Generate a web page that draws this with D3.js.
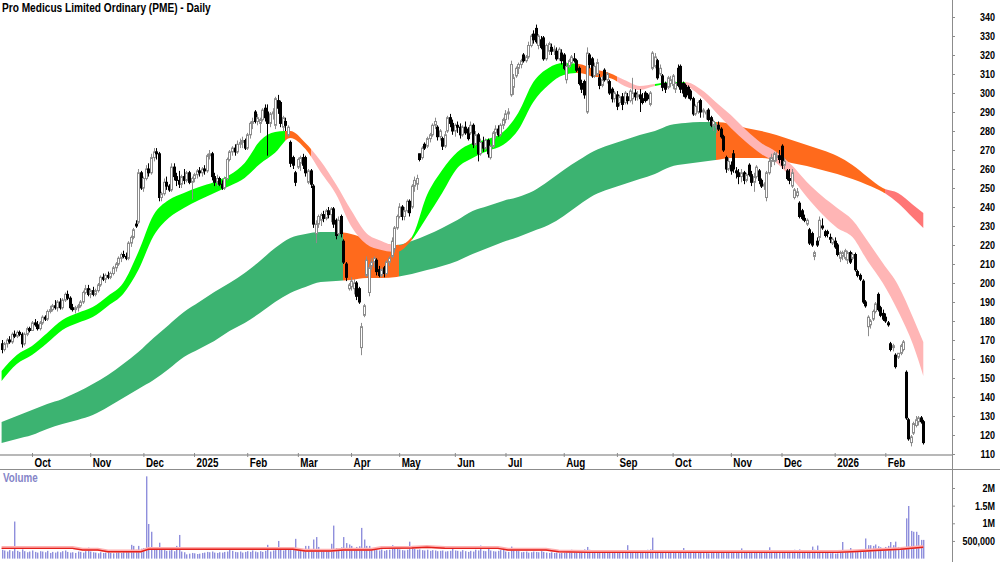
<!DOCTYPE html>
<html>
<head>
<meta charset="utf-8">
<script src="https://cdn.jsdelivr.net/npm/d3@7"></script>
<style>
html, body { margin: 0; padding: 0; background: #fff; }
svg { display: block; }
</style>
</head>
<body>
<svg id="chart" width="1000" height="562"></svg>
<script>
// ---- data (prices in A$, volume in thousands) ----
const title = "Pro Medicus Limited Ordinary (PME) - Daily";
const firstDay = "2024-09-13", lastDay = "2026-02-23";
const holidays = ["2024-12-25","2024-12-26","2025-01-01","2025-01-27","2025-04-18","2025-04-21",
  "2025-04-25","2025-06-09","2025-12-25","2025-12-26","2026-01-01","2026-01-26"];
const monthLabels = ["Oct","Nov","Dec","2025","Feb","Mar","Apr","May","Jun","Jul","Aug","Sep","Oct","Nov","Dec","2026","Feb"];
const priceTicks = [110,120,130,140,150,160,170,180,190,200,210,220,230,240,250,260,270,280,290,300,310,320,330,340];
const volumeTicks = [500, 1000, 1500, 2000];
const volumeTickLabels = ["500,000", "1M", "1.5M", "2M"];

// [open, high, low, close]
const bars2024 = [
  [168,170,163,165],[165,169,164,168],[168,171,166,170],[170,172,168,169],[169,174,168,173],[173,175,171,172],[172,175,171,174],[174,175,172,173],[173,174,166,168],[168,174,167,173],[173,177,172,176],[176,177,174,175],
  [175,180,175,179],[179,181,177,178],[178,180,175,176],[176,180,175,179],[179,183,178,182],[182,183,180,181],[181,186,180,185],[185,188,184,186],[186,189,185,188],[188,191,186,187],[187,191,185,190],[190,192,186,187],[187,192,186,191],[191,195,190,194],[194,196,191,192],[192,193,186,187],[187,189,185,186],[186,188,184,187],[187,189,185,188],[188,191,187,190],[190,196,189,195],[195,199,194,197],[197,199,193,194],
  [194,197,192,196],[196,198,193,194],[194,197,193,196],[196,200,195,199],[199,204,198,203],[203,205,201,202],[202,205,200,204],[204,206,202,203],[203,206,202,205],[205,209,204,208],[208,211,206,210],[210,214,209,213],[213,216,211,215],[215,217,213,214],[214,216,212,213],[213,222,212,221],[221,225,219,224],[224,229,223,228],[231,233,229,230],[232,260,231,258],[258,259,249,250],
  [250,256,248,255],[255,262,254,260],[260,263,256,258],[258,268,257,266],[266,271,264,269],[269,271,265,268],[268,269,243,245],[245,248,243,247],[247,255,246,253],[253,256,249,251],[251,252,248,249],[249,263,248,261],[261,263,254,256],[256,258,251,254],[254,259,250,252],[252,257,250,256],[256,260,252,254],[254,259,253,258],[258,259,252,253],[253,256,244,255]
];
const bars2025 = [
  [255,258,253,257],[257,260,255,259],[259,261,256,258],[258,261,256,260],[260,262,257,259],[259,268,258,267],[267,270,265,268],[268,269,254,256],[256,258,251,253],[253,257,251,255],[255,256,251,252],[252,254,249,250],[250,256,249,255],[255,266,254,265],[265,270,264,269],[269,272,267,271],[271,273,267,269],[269,275,268,273],[273,276,271,274],[274,277,271,275],[275,276,270,271],
  [271,279,270,278],[278,285,276,284],[284,287,281,285],[290,291,284,285],[285,289,283,287],[284,287,279,286],[286,292,285,291],[292,294,285,287],[290,294,267,284],[284,290,282,289],[289,292,286,290],[283,298,281,297],[296,299,289,292],[295,296,282,284],[282,288,280,287],[285,287,280,283],[278,283,277,282],[274,275,261,263],[266,267,260,262],[258,259,251,253],
  [261,266,260,265],[263,267,259,266],[266,268,260,262],[266,267,256,258],[253,260,252,259],[259,260,250,252],[251,252,229,231],[226,233,221,231],[231,236,229,235],[233,237,230,236],[236,238,232,234],[234,239,233,238],[238,240,234,236],[236,240,232,239],[239,240,229,231],[233,234,223,225],[226,235,225,233],[235,236,224,226],[222,223,210,211],[210,211,201,203],[197,200,196,199],
  [198,203,196,201],[197,202,194,200],[200,201,191,193],[197,198,189,190],[166,179,162,177],[183,189,182,188],[204,214,203,212],[195,210,193,208],[209,213,207,211],[211,214,208,213],[212,213,204,206],[207,209,203,204],[204,208,203,207],[208,209,203,205],[205,212,204,211],[211,214,209,213],[214,224,213,222],[218,230,216,229],[229,236,228,235],
  [235,242,234,240],[240,241,233,235],[235,240,233,238],[238,244,237,243],[243,244,235,237],[240,252,239,251],[251,256,248,254],[252,257,249,255],[268,268,264,265],[266,272,265,271],[273,274,270,271],[272,277,271,276],[276,279,274,278],[278,284,277,283],[283,287,281,285],[282,283,275,277],[277,281,275,280],[276,277,270,272],[272,280,271,278],[280,288,279,287],[287,289,282,284],[284,286,278,280],
  [280,284,277,283],[283,285,279,282],[282,284,276,278],[278,283,277,282],[282,285,278,279],[281,282,275,276],[279,285,278,283],[283,284,271,273],[273,280,272,278],[278,279,264,268],[268,276,267,274],[274,277,269,271],[271,276,270,275],[275,276,266,268],[266,273,265,272],[272,280,271,279],[279,283,276,281],[281,283,277,278],[278,284,277,283],[283,287,281,286],
  [286,291,284,289],[289,292,286,290],[299,317,298,315],[303,310,299,308],[309,314,308,313],[313,316,310,315],[315,318,313,317],[320,321,316,317],[317,320,316,319],[319,327,318,325],[325,331,324,330],[331,333,326,328],[334,336,326,327],[325,331,323,330],[328,330,323,324],[329,330,317,318],[318,326,317,325],[322,327,320,326],[324,326,320,322],[322,325,320,323],[322,324,317,318],[318,324,317,323],[321,323,315,317],
  [320,321,312,313],[307,316,305,314],[314,318,313,317],[316,320,315,319],[318,321,316,317],[317,318,311,312],[313,314,304,305],[305,307,300,302],[306,307,297,299],[290,324,289,321],[320,321,313,315],[318,319,308,309],[309,316,308,314],[310,318,309,316],[308,310,302,304],[304,309,303,307],[312,313,306,307],[307,311,305,310],[306,307,299,300],[302,303,295,297],[297,301,295,300],
  [299,301,291,293],[295,299,293,298],[298,300,291,294],[295,301,294,300],[298,300,294,296],[296,302,295,301],[297,308,294,300],[300,302,296,298],[298,301,296,299],[299,302,290,297],[297,300,294,295],[300,301,295,296],[299,300,296,297],[294,301,293,300],[313,322,312,321],[314,321,313,319],[317,318,307,308],[310,315,309,313],[309,310,301,303],[305,306,300,302],[303,309,302,308],[305,309,303,307],
  [304,310,302,309],[302,306,300,305],[313,315,303,304],[314,315,300,302],[305,306,298,300],[304,305,297,298],[303,304,297,299],[301,302,296,297],[297,298,288,289],[289,294,288,293],[290,296,289,295],[296,297,287,290],[290,292,287,291],[289,291,286,290],[291,292,285,286],[287,288,282,283],[283,286,280,285],[282,284,279,283],[283,285,280,281],[281,282,276,277],[277,278,269,270],[266,267,258,260],[260,266,259,264],
  [262,264,257,259],[268,270,258,260],[259,261,255,258],[258,260,252,256],[256,260,253,258],[258,259,252,254],[254,258,253,257],[262,263,256,257],[257,259,251,253],[253,258,248,256],[256,262,255,261],[259,260,252,254],[254,255,250,251],[251,253,249,252],[245,259,243,258],[258,266,257,264],[264,268,261,266],[264,269,262,268],[266,269,264,267],[267,270,263,265],
  [272,273,260,262],[262,266,260,264],[259,260,254,255],[255,260,252,254],[251,260,250,258],[245,250,244,249],[246,250,245,248],[242,243,234,235],[238,239,233,234],[234,236,232,233],[231,234,230,233],[228,229,220,221],[226,227,219,220],[214,217,212,216],[222,224,219,220],[224,235,222,233],[230,234,228,229],[227,228,224,225],[227,228,224,226],[224,226,221,223],[221,224,220,223]
];
const bars2026 = [
  [222,224,218,219],[220,221,214,215],[213,217,211,216],[214,217,212,216],[213,218,212,217],[212,217,210,216],[216,217,210,211],[213,216,212,215],[215,216,206,207],[206,207,203,204],[204,205,201,202],[201,202,189,190],[190,191,187,188],[177,183,172,182],[178,181,176,180],[181,186,180,185],[185,190,184,189],[194,195,185,186],[187,188,182,183],[184,186,180,181],
  [182,184,179,180],[179,180,177,178],[168,169,164,165],[166,168,164,167],[162,163,155,156],[161,163,160,163],[163,168,162,167],[165,170,164,169],[153,154,128,129],[128,129,117,118],[116,120,114,119],[121,127,120,126],[125,130,124,128],[127,130,125,129],[129,130,126,127],[127,128,115,116]
];

const vol2024 = [
  250,230,200,240,210,1050,220,190,260,210,180,200,
  230,190,170,210,200,180,220,160,190,170,200,180,210,230,190,170,180,160,200,190,170,210,310,
  200,180,170,150,180,160,170,190,160,150,170,180,160,200,190,240,390,360,250,360,280,
  300,2330,980,760,300,260,450,280,240,220,230,250,210,360,670,200,180,120,140,160
];
const vol2025 = [
  150,130,140,160,170,190,180,200,170,160,180,170,190,200,310,220,190,180,200,170,190,
  210,190,230,200,180,210,190,220,390,200,230,240,500,260,230,250,280,240,300,560,
  280,250,240,360,360,270,540,610,330,260,240,250,270,420,935,300,280,320,610,440,400,
  360,300,330,350,870,540,360,360,290,250,240,230,260,220,240,250,380,300,280,
  260,240,230,250,480,300,270,250,260,240,230,250,220,240,230,210,220,230,200,210,220,330,
  230,220,200,240,210,190,220,200,250,230,370,220,210,340,230,210,200,220,240,250,
  200,190,340,260,220,210,180,190,200,170,180,200,190,180,210,190,170,160,180,160,170,150,160,
  170,190,230,250,200,220,240,230,260,330,250,220,200,210,180,190,170,160,180,200,170,
  180,170,160,190,380,200,180,170,190,220,200,230,250,260,594,240,220,200,190,210,180,200,
  190,180,200,170,300,200,190,180,170,160,180,190,170,160,150,170,160,180,170,190,200,180,170,
  180,170,200,190,290,180,170,160,190,180,170,200,190,210,220,320,200,190,180,170,
  210,200,190,220,230,250,240,260,230,220,240,230,340,250,370,230,220,200,180,150,160
];
const vol2026 = [
  140,150,170,470,200,210,300,220,230,240,250,260,570,380,380,360,400,350,320,300,
  330,360,470,380,480,330,300,320,1140,1490,785,760,760,670,530,530
];

// average-volume line (red), read at these trading-day positions
const volAvgDays = [0,28,32,38,42,55,58,115,120,130,135,146,150,162,168,175,196,200,215,220,232,330,338,345,355,364];
const volAvg     = [290,290,245,245,196,196,265,265,215,215,245,245,290,300,320,295,290,245,245,196,175,175,200,230,265,320];

// moving-average ribbons, read every sixth trading day (and the last day)
const bandDays = [0,6,12,18,24,30,36,42,48,54,60,66,72,78,84,90,96,102,108,114,120,126,132,138,144,150,156,162,168,174,
  180,186,192,198,204,210,216,222,228,234,240,246,252,258,264,270,276,282,288,294,300,306,312,318,324,330,336,342,348,354,360,364];
const fastHi = [153.7,162.1,166.8,173.7,180.5,184.2,187.4,193.2,200.0,216.3,235.8,243.7,247.4,250.5,253.2,256.8,263.2,274.7,279.5,280.0,
  273.7,264.2,252.1,238.4,226.3,222.1,219.5,224.2,246.3,259.5,269.0,273.7,275.8,279.5,289.5,305.8,313.2,315.8,315.3,312.6,
  310.5,306.8,303.7,304.7,305.8,305.8,302.1,295.3,288.4,280.5,273.7,269.0,262.1,253.2,245.8,239.5,233.2,222.1,210.5,199.0,181.6,168.9];
const fastLo = [148.4,157.4,162.1,168.4,175.3,179.0,182.1,187.9,194.2,206.8,224.7,234.2,239.5,243.7,247.4,251.1,255.3,262.6,268.5,276.3,
  270.5,258.4,246.8,230.0,220.5,217.4,216.3,222.6,234.7,247.4,260.5,265.8,269.5,272.6,280.5,295.3,304.2,309.5,310.5,308.5,
  307.9,303.7,301.6,303.7,304.7,303.7,298.4,290.0,281.6,274.2,267.9,263.2,255.3,245.3,236.3,229.0,224.2,211.6,200.0,185.3,167.4,151.1];
const slowHi = [126.8,130.0,133.2,136.3,139.0,142.6,146.9,151.6,157.4,163.7,171.1,177.9,184.7,190.0,195.3,200.0,205.3,211.6,218.4,223.7,
  225.8,226.8,226.8,225.8,223.2,221.1,220.0,222.1,225.3,229.0,233.2,237.9,240.5,243.2,245.3,248.4,253.7,259.5,264.7,269.5,
  272.6,275.3,277.9,280.0,283.2,284.2,284.7,284.7,283.7,281.6,280.0,277.9,275.3,272.6,270.0,266.8,262.1,255.8,250.0,247.4,241.1,236.8];
const slowLo = [115.8,117.9,120.0,123.2,125.8,127.9,130.5,134.7,139.5,144.2,148.9,154.8,161.1,165.3,169.5,174.7,178.9,184.2,190.0,194.7,
  197.9,200.5,201.1,201.6,202.6,202.6,203.2,204.7,206.8,209.0,211.6,215.3,218.4,221.6,224.2,227.4,230.5,235.3,241.1,246.3,
  249.5,252.1,254.7,257.4,261.1,262.6,263.7,264.7,265.8,265.8,265.8,264.7,263.2,261.6,259.5,257.4,254.7,251.6,247.9,242.1,234.2,229.0];
// ribbon state by trading-day range
const fastStates = [[0,112,"up"],[112,122,"turn"],[122,154,"down"],[154,162,"turn"],[162,227,"up"],[227,243,"turn"],[243,258,"down"],[258,270,"up"],[270,364,"down"]];
const slowStates = [[0,135,"up"],[135,157,"turn"],[157,282,"up"],[282,349,"turn"],[349,364,"down"]];

const fastColors = { up: "#00ff00", turn: "#ff6a1c", down: "#ffb5b5" };
const slowColors = { up: "#3cb371", turn: "#ff6a1c", down: "#ff7676" };

// ---- helpers ----
function tradingDays(start, end, hol) {
  const skip = new Set(hol), out = [];
  const d = new Date(start + "T00:00:00Z"), stop = new Date(end + "T00:00:00Z");
  for (; d <= stop; d.setUTCDate(d.getUTCDate() + 1)) {
    const wd = d.getUTCDay(), s = d.toISOString().slice(0, 10);
    if (wd !== 0 && wd !== 6 && !skip.has(s)) out.push(s);
  }
  return out;
}

const FONT = '"Liberation Sans Narrow","Arial Narrow","Liberation Sans",Arial,sans-serif';
const svg = d3.select("#chart").attr("font-family", FONT);
const defs = svg.append("defs");

const days = tradingDays(firstDay, lastDay, holidays);
const ohlc = [...bars2024, ...bars2025, ...bars2026];
const volumes = [...vol2024, ...vol2025, ...vol2026];
const bars = ohlc.map((b, i) => ({ day: days[i], o: b[0], h: b[1], l: b[2], c: b[3], v: volumes[i] }));

const x = d3.scalePoint().domain(days.slice(0, bars.length)).range([1.6, 923.3]);
const y = d3.scaleLinear().domain([110, 340]).range([454, 17]);
const yv = d3.scaleLinear().domain([0, 2000]).range([558.6, 488]);
const cx = d => Math.round(x(d.day));

// ---- price panel ----
defs.append("clipPath").attr("id", "plotClip").append("rect").attr("x", 0).attr("y", 0).attr("width", 951).attr("height", 454);
const plot = svg.append("g").attr("clip-path", "url(#plotClip)");

const area = d3.area().x(d => x(d.day)).y0(d => y(d.lo)).y1(d => y(d.hi)).curve(d3.curveMonotoneX);

function drawRibbon(hi, lo, states, colors, name) {
  const pts = bandDays.map((d, k) => ({ day: days[d], hi: hi[k], lo: lo[k] }));
  const path = area(pts);
  states.forEach(([a, b, state], k) => {
    const x0 = a === 0 ? -5 : Math.round(x(days[a]));
    const x1 = b >= bars.length - 1 ? 960 : Math.round(x(days[b]));
    const id = `${name}-${k}`;
    defs.append("clipPath").attr("id", id).append("rect")
      .attr("x", x0).attr("y", 0).attr("width", x1 - x0).attr("height", 460);
    plot.append("g").attr("clip-path", `url(#${id})`)
      .append("path").attr("d", path).attr("fill", colors[state]);
  });
}
drawRibbon(slowHi, slowLo, slowStates, slowColors, "slow");
drawRibbon(fastHi, fastLo, fastStates, fastColors, "fast");

const candles = plot.append("g");
candles.selectAll("line").data(bars).join("line")
  .attr("x1", d => cx(d) + 0.5).attr("x2", d => cx(d) + 0.5)
  .attr("y1", d => y(d.h)).attr("y2", d => y(d.l))
  .attr("stroke", d => d.c >= d.o ? "#8c8c8c" : "#000").attr("stroke-width", 1);
candles.selectAll("rect").data(bars).join("rect")
  .attr("x", d => cx(d) - 0.5).attr("width", 2)
  .attr("y", d => y(Math.max(d.o, d.c)))
  .attr("height", d => Math.max(1, Math.abs(y(d.o) - y(d.c))))
  .attr("fill", d => d.c >= d.o ? "#fff" : "#000")
  .attr("stroke", d => d.c >= d.o ? "#8c8c8c" : "#000").attr("stroke-width", 1);

// ---- frame lines ----
svg.append("line").attr("x1", 0).attr("x2", 952).attr("y1", 455).attr("y2", 455).attr("stroke", "#a0a0a0").attr("stroke-width", 1.5);
svg.append("line").attr("x1", 0).attr("x2", 1000).attr("y1", 469.5).attr("y2", 469.5).attr("stroke", "#8c8c8c");
svg.append("line").attr("x1", 952.5).attr("x2", 952.5).attr("y1", 0).attr("y2", 562).attr("stroke", "#8c8c8c");

// ---- price axis ----
const pa = svg.append("g").attr("transform", "translate(952,0)")
  .call(d3.axisRight(y).tickValues(priceTicks).tickSize(3).tickFormat(d3.format("d")));
pa.attr("font-family", FONT).attr("font-size", 11).attr("font-weight", "bold");
pa.select(".domain").remove();
pa.selectAll(".tick line").attr("stroke", "#8c8c8c");
pa.selectAll(".tick text").attr("x", 43).attr("text-anchor", "end").attr("fill", "#000");

// ---- date axis ----
const monthStarts = x.domain().filter((d, i, a) => i > 0 && d.slice(5, 7) !== a[i - 1].slice(5, 7));
const da = svg.append("g").attr("transform", "translate(0,455)")
  .call(d3.axisBottom(x).tickValues(monthStarts).tickSize(3).tickFormat((d, i) => monthLabels[i]));
da.attr("font-family", FONT).attr("font-size", 12).attr("font-weight", "bold");
da.select(".domain").remove();
da.selectAll(".tick line").attr("stroke", "#8c8c8c").attr("y1", -2).attr("y2", 2);
da.selectAll(".tick text").attr("text-anchor", "start").attr("x", 2).attr("y", 11.7).attr("dy", 0).attr("fill", "#000");

// ---- volume panel ----
const vol = svg.append("g");
vol.selectAll("rect").data(bars).join("rect")
  .attr("x", d => cx(d)).attr("width", 1.4)
  .attr("y", d => yv(d.v)).attr("height", d => yv(0) - yv(d.v))
  .attr("fill", "#8f8fdc");
const avgLine = d3.line().x((d, k) => x(days[d])).y((d, k) => yv(volAvg[k]));
vol.append("path").attr("d", avgLine(volAvgDays)).attr("fill", "none").attr("stroke", "#ffb0b0").attr("stroke-width", 3).attr("transform", "translate(0,-0.8)");
vol.append("path").attr("d", avgLine(volAvgDays)).attr("fill", "none").attr("stroke", "#e3201b").attr("stroke-width", 1.4);

const va = svg.append("g").attr("transform", "translate(952,0)")
  .call(d3.axisRight(yv).tickValues(volumeTicks).tickSize(3).tickFormat((d, i) => volumeTickLabels[i]));
va.attr("font-family", FONT).attr("font-size", 11).attr("font-weight", "bold");
va.select(".domain").remove();
va.selectAll(".tick line").attr("stroke", "#8c8c8c");
va.selectAll(".tick text").attr("x", 43).attr("text-anchor", "end").attr("fill", "#000");

svg.append("text").attr("x", 3).attr("y", 482).attr("font-size", 12).attr("font-weight", "bold")
  .attr("fill", "#8585c8").text("Volume");

// ---- title ----
svg.append("text").attr("class", "title").attr("x", 2).attr("y", 12.5)
  .attr("font-size", 13).attr("font-weight", "bold").attr("fill", "#000").text(title);

// narrow bold face: squeeze text horizontally if the condensed font is not installed
const probe = svg.append("text").attr("font-size", 100).attr("font-weight", "bold").text("0000000000");
const probeW = probe.node().getComputedTextLength();
probe.remove();
const squeeze = probeW > 500 ? 0.82 : 1;
svg.selectAll("text").each(function () {
  const t = d3.select(this);
  const k = t.classed("title") ? 209 / this.getComputedTextLength() : squeeze;
  if (k === 1) return;
  const x0 = +t.attr("x") || 0;
  t.attr("x", x0 / k).attr("transform", `scale(${k},1)`);
});
</script>
</body>
</html>
